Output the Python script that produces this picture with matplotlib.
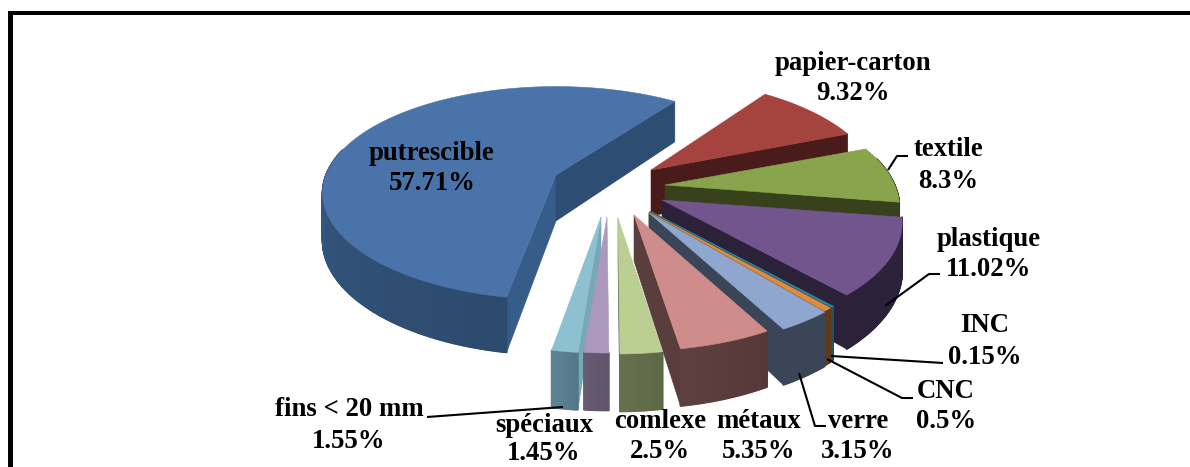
import numpy as np
import matplotlib
matplotlib.use('Agg')
import matplotlib.pyplot as plt
from matplotlib.collections import PolyCollection
from matplotlib.colors import to_rgb

plt.rcParams['font.family'] = ['Liberation Serif', 'DejaVu Serif']

# composition des déchets (%), dans le sens horaire
categories = ['papier-carton', 'textile', 'plastique', 'INC', 'CNC', 'verre',
              'métaux', 'comlexe', 'spéciaux', 'fins < 20 mm', 'putrescible']
values = [9.32, 8.3, 11.02, 0.15, 0.5, 3.15, 5.35, 2.5, 1.45, 1.55, 57.71]
value_labels = ['9.32%', '8.3%', '11.02%', '0.15%', '0.5%', '3.15%',
                '5.35%', '2.5%', '1.45%', '1.55%', '57.71%']

top_colors = ['#A5433F', '#88A44D', '#72558C', '#2F8AA0', '#E58A3C', '#8FA7CE',
              '#CE8D8B', '#BBCF93', '#AC98BC', '#8DC0D1', '#4A74A9']
wall_colors = ['#4A1B1B', '#37411B', '#2B2139', '#1F5560', '#5E3A1A', '#3B4558',
               '#5A3D3D', '#5A6645', '#665A70', '#76A8B8', '#365C8A']
rim_light = ['#4A1B1B', '#37411B', '#2B2139', '#1F5560', '#5E3A1A', '#3B4558',
             '#5E4040', '#66704E', '#675B71', '#5D8492', '#41689A']
rim_dark = ['#4A1B1B', '#37411B', '#2B2139', '#1F5560', '#5E3A1A', '#3B4558',
            '#553838', '#5C6846', '#5F5469', '#54788A', '#2C4A6C']
end_wall = '#2E4D73'

# écartement de chaque part par rapport au centre, en pixels
CENTER = (626, 190)
offset_x = [25, 39, 36, 24, 23, 23, 8, -8, -19, -25, -70]
offset_y = [-20, -5, 10, 21, 22, 23, 25, 28, 27, 27, -15]

# réglage de la perspective par part
radius_x = [1.015, 1.035, 1.06, 1.05, 1.05, 1.05, 1.04, 1.0, 1.0, 1.0, 1.036]
tilt = [0.49] * 10 + [0.466]
persp = [0.20] * 10 + [0.17]

START = 36.0     # angle du premier secteur
R0 = 222.0
DEPTH = 46.0


def rim_vec(i, theta):
    # vecteur centre -> bord en pixels, avec la perspective
    t = np.radians(theta)
    w = 1 + persp[i] * np.cos(t)
    return R0 * radius_x[i] * np.sin(t) / w, -tilt[i] * R0 * np.cos(t) / w, DEPTH / w


fig = plt.figure(figsize=(11.9, 4.67), dpi=100)
ax = fig.add_axes([0, 0, 1, 1])
ax.set_xlim(0, 1190)
ax.set_ylim(467, 0)
ax.axis('off')


def poly(points, color, z):
    ax.fill(*zip(*points), color=color, lw=0.4, zorder=z)


def draw_slice(i, a1, a2, z):
    ax0 = CENTER[0] + offset_x[i]
    ay0 = CENTER[1] + offset_y[i]
    angles = np.linspace(a1, a2, max(8, int((a2 - a1) * 2)))
    rim = [rim_vec(i, a) for a in angles]
    outer = [(ax0 + dx, ay0 + dy) for dx, dy, _ in rim]
    mid_dx, mid_dy, _ = rim_vec(i, (a1 + a2) / 2)

    # parois radiales, seulement si elles font face à l'observateur
    for (dx, dy, d) in (rim[0], rim[-1]):
        side = dx * mid_dy - dy * mid_dx
        if side * dx < 0:
            quad = [(ax0, ay0), (ax0 + dx, ay0 + dy),
                    (ax0 + dx, ay0 + dy + d), (ax0, ay0 + DEPTH)]
            color = end_wall if (i == len(values) - 1 and dy < 0) else wall_colors[i]
            poly(quad, color, z)

    # paroi extérieure en dégradé
    quads, colors = [], []
    light, dark = np.array(to_rgb(rim_light[i])), np.array(to_rgb(rim_dark[i]))
    for j in range(len(angles) - 1):
        if np.cos(np.radians((angles[j] + angles[j + 1]) / 2)) > 0.25:
            continue
        x1, y1 = outer[j]
        x2, y2 = outer[j + 1]
        quads.append([(x1, y1), (x2, y2), (x2, y2 + rim[j + 1][2]), (x1, y1 + rim[j][2])])
        colors.append(dark + (light - dark) * j / max(1, len(angles) - 2))
    if quads:
        ax.add_collection(PolyCollection(quads, facecolors=colors, edgecolors=colors,
                                         linewidths=1.2, zorder=z))

    # dessus de la part
    poly([(ax0, ay0)] + outer, top_colors[i], z + 0.5)


cuts = START + np.cumsum([0] + values) * 360 / sum(values)
mids = (cuts[:-1] + cuts[1:]) / 2
for rank, i in enumerate(np.argsort(-np.cos(np.radians(mids)))):
    draw_slice(i, cuts[i], cuts[i + 1], 2 + rank)

# cadre
ax.fill([8, 1190, 1190, 13, 13, 8], [11, 11, 15, 15, 467, 467], color='black', lw=0, zorder=1)

# étiquettes : centre x, y du nom, y de la valeur
label_pos = {
    'papier-carton': (853, 64, 94),
    'textile': (948, 150, 181),
    'plastique': (989, 239, 269),
    'INC': (985, 326, 357),
    'CNC': (946, 391, 422),
    'verre': (858, 421, 451),
    'métaux': (759, 421, 451),
    'comlexe': (660, 421, 451),
    'spéciaux': (544, 426, 454),
    'fins < 20 mm': (349, 410, 441),
    'putrescible': (432, 153, 184),
}
for name, val in zip(categories, value_labels):
    x, y1, y2 = label_pos[name]
    for y, s in ((y1, name), (y2, val)):
        ax.text(x, y, s, ha='center', va='center', fontsize=19.3,
                fontweight='bold', color='black', zorder=30)

# traits de rappel
leaders = [
    ([888, 897, 908], [170, 156, 156]),
    ([885, 929, 940], [306, 274, 274]),
    ([831, 943], [356, 363]),
    ([827, 902, 913], [359, 398, 398]),
    ([799, 815, 826], [373, 426, 426]),
    ([563, 427], [407, 417]),
]
for xs, ys in leaders:
    ax.plot(xs, ys, color='black', lw=1.5, zorder=25, solid_capstyle='butt')

fig.savefig('out.png', dpi=100)
